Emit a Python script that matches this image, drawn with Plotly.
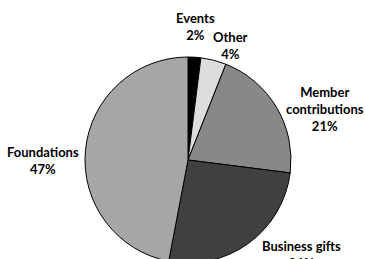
import plotly.graph_objects as go

categories = ["Events", "Other", "Member<br>contributions", "Business gifts", "Foundations"]
shares = [2, 4, 21, 26, 47]
colors = ["#000000", "#dddddd", "#888888", "#404040", "#a6a6a6"]

# label centres in pixels (layout only)
label_px = [(195, 27), (230, 45), (325, 109), (301, 254), (43, 160)]

W, H = 365, 275
fig = go.Figure(go.Pie(
    labels=categories,
    values=shares,
    sort=False,
    direction="clockwise",
    rotation=0,
    marker=dict(colors=colors, line=dict(color="#000000", width=1)),
    textinfo="none",
    showlegend=False,
    hoverinfo="none",
    domain=dict(x=[85 / W, 291 / W], y=[12 / H, 218 / H]),
))
for cat, v, (px, py) in zip(categories, shares, label_px):
    fig.add_annotation(
        text=f"<b>{cat}</b><br><b>{v}%</b>",
        x=px / W, y=(H - py) / H, xref="paper", yref="paper",
        xanchor="center", yanchor="middle", align="center",
        showarrow=False,
        font=dict(family="Lato", size=13, color="#000000"),
    )
fig.update_layout(
    width=W, height=H,
    margin=dict(l=0, r=0, t=0, b=0),
    paper_bgcolor="#ffffff",
    plot_bgcolor="#ffffff",
)
fig.write_html("out.html", config={"displayModeBar": False},
               post_script="document.body.style.overflow='hidden';document.body.style.margin='0';")
